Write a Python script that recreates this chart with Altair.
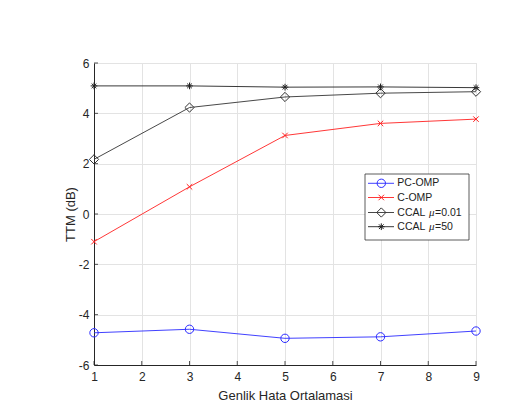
import altair as alt
import pandas as pd

# ---- data ----
x_vals = [1, 3, 5, 7, 9]
pc_omp = [-4.72, -4.58, -4.94, -4.88, -4.65]
c_omp = [-1.10, 1.08, 3.12, 3.60, 3.77]
ccal_001 = [2.17, 4.23, 4.65, 4.80, 4.86]
ccal_50 = [5.09, 5.09, 5.04, 5.05, 5.02]

x_ticks = [1, 2, 3, 4, 5, 6, 7, 8, 9]
y_ticks = [-6, -4, -2, 0, 2, 4, 6]

x_title = "Genlik Hata Ortalamasi"
y_title = "TTM (dB)"

W, H = 382, 302
FONT = "Liberation Sans"
AX = "#262626"
GRID = "#e3e3e3"

X_PATH = "M-1,-1L1,1M-1,1L1,-1"
STAR_PATH = "M-1,0L1,0M0,-1L0,1M-0.7,-0.7L0.7,0.7M-0.7,0.7L0.7,-0.7"

series = [
    # name, values, color, shape, size, label part 1, label part 2
    ("PC-OMP", pc_omp, "#2b2bff", "circle", 70, "PC-OMP", None),
    ("C-OMP", c_omp, "#ff2020", X_PATH, 30, "C-OMP", None),
    ("CCAL 0.01", ccal_001, "#333333", "diamond", 85, "CCAL ", "=0.01"),
    ("CCAL 50", ccal_50, "#222222", STAR_PATH, 45, "CCAL ", "=50"),
]

xs = alt.Scale(domain=[1, 9], nice=False, zero=False)
ys = alt.Scale(domain=[-6, 6], nice=False, zero=False)

xaxis = alt.Axis(values=x_ticks, title=x_title, grid=True, tickSize=0,
                 labelPadding=6, titleY=30, titleBaseline="middle",
                 titleFontWeight="normal", labelExpr="'' + datum.value",
                 labelFlush=False)
yaxis = alt.Axis(values=y_ticks, title=y_title, grid=True, tickSize=0,
                 labelPadding=5, titleX=-24, titleY=H / 2, titleAngle=270,
                 titleBaseline="middle", titleFontWeight="normal",
                 labelExpr="'' + datum.value", labelFlush=False)


def X():
    return alt.X("x:Q", scale=xs, axis=xaxis)


def Y():
    return alt.Y("y:Q", scale=ys, axis=yaxis)


layers = []

for name, vals, color, shape, size, lab1, lab2 in series:
    df = pd.DataFrame({"x": x_vals, "y": vals})
    layers.append(
        alt.Chart(df).mark_line(color=color, strokeWidth=0.9).encode(x=X(), y=Y())
    )
    layers.append(
        alt.Chart(df).mark_point(shape=shape, size=size, color=color,
                                 filled=False, strokeWidth=1, opacity=1).encode(
            x=X(), y=Y()
        )
    )

# inward tick marks
tx = pd.DataFrame({"x": x_ticks})
layers.append(
    alt.Chart(tx).mark_rule(color=AX, strokeWidth=0.8).encode(
        x=X(), y=alt.value(H), y2=alt.value(H - 4)
    )
)
ty = pd.DataFrame({"y": y_ticks})
layers.append(
    alt.Chart(ty).mark_rule(color=AX, strokeWidth=0.8).encode(
        y=Y(), x=alt.value(0), x2=alt.value(4)
    )
)

# ---- legend box ----
LX0, LX1, LY0, LY1 = 271, 375, 111, 177
row_y = [120.3, 134.5, 149.5, 163.7]
one = pd.DataFrame({"a": [0]})
layers.append(
    alt.Chart(one).mark_rect(fill="white", stroke="#333333", strokeWidth=0.8).encode(
        x=alt.value(LX0), x2=alt.value(LX1), y=alt.value(LY0), y2=alt.value(LY1)
    )
)
for (name, vals, color, shape, size, lab1, lab2), ry in zip(series, row_y):
    layers.append(
        alt.Chart(one).mark_rule(color=color, strokeWidth=0.9).encode(
            x=alt.value(274), x2=alt.value(300), y=alt.value(ry)
        )
    )
    layers.append(
        alt.Chart(one).mark_point(shape=shape, size=size, color=color,
                                  filled=False, strokeWidth=1, opacity=1).encode(
            x=alt.value(287.3), y=alt.value(ry)
        )
    )
    layers.append(
        alt.Chart(one).mark_text(text=lab1, align="left", baseline="middle",
                                 font=FONT, fontSize=10.5, color="#222222").encode(
            x=alt.value(303.3), y=alt.value(ry)
        )
    )
    if lab2:
        layers.append(
            alt.Chart(one).mark_text(text="μ", align="left", baseline="middle",
                                     font="Liberation Serif", fontStyle="italic",
                                     fontSize=11, color="#222222").encode(
                x=alt.value(335), y=alt.value(ry)
            )
        )
        layers.append(
            alt.Chart(one).mark_text(text=lab2, align="left", baseline="middle",
                                     font=FONT, fontSize=10.5, color="#222222").encode(
                x=alt.value(341), y=alt.value(ry)
            )
        )

chart = alt.layer(*layers).properties(
    width=W, height=H,
    autosize=alt.AutoSizeParams(type="none"),
    padding={"left": 86, "top": 55, "right": 20, "bottom": 40},
    background="white",
).configure_view(
    stroke=GRID, strokeWidth=1
).configure_axis(
    labelFont=FONT, labelFontSize=12, labelColor=AX,
    titleFont=FONT, titleFontSize=13, titleColor=AX,
    domainColor=AX, domainWidth=1, gridColor=GRID, gridWidth=1,
)

chart.save("out.html", embed_options={"renderer": "svg", "actions": False})
